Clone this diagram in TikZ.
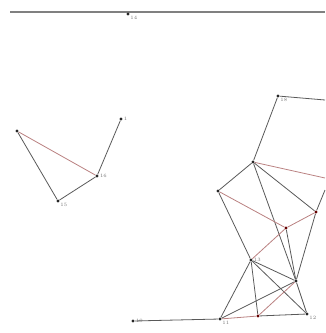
\documentclass[tikz,border=0pt]{standalone}
\begin{document}
\begin{tikzpicture}[x=1pt,y=-1pt,
  vtx/.style={circle,fill=black!85,inner sep=0pt,minimum size=3.2pt},
  rvtx/.style={circle,fill=red!40!black,inner sep=0pt,minimum size=3.2pt},
  lab/.style={font=\fontsize{5}{5}\selectfont,text=black!55,inner sep=1pt},
  ed/.style={draw=black!65,line width=0.8pt},
  red/.style={draw=red!45!black!50,line width=0.8pt}]
\useasboundingbox (0,0) rectangle (325,333);
\draw[draw=black!50,line width=1.6pt] (10,12) -- (325,12);
% nodes
\node[vtx] (n14) at (128,14) {};
\node[lab,anchor=north west] at (n14.south east) {14};
\node[vtx] (n9) at (17,131) {};
\node[vtx] (n1) at (121,119) {};
\node[lab,anchor=west] at (n1.east) {1};
\node[vtx] (n16) at (97,176) {};
\node[lab,anchor=west] at (n16.east) {16};
\node[vtx] (n15) at (58,201) {};
\node[lab,anchor=north west] at (n15.south east) {15};
\node[vtx] (n18) at (278,96) {};
\node[lab,anchor=north west] at (n18.south east) {18};
\node[vtx] (n8) at (253,162) {};
\node[vtx] (n6) at (218,191) {};
\node[rvtx] (nR) at (316,212) {};
\node[rvtx] (n3) at (286,228) {};
\node[vtx] (n13) at (251,260) {};
\node[lab,anchor=west] at (n13.east) {13};
\node[vtx] (n5) at (296,281) {};
\node[vtx] (n12) at (307,314) {};
\node[lab,anchor=north west] at (n12.south east) {12};
\node[rvtx] (n4) at (258,316) {};
\node[vtx] (n11) at (220,319) {};
\node[lab,anchor=north west] at (n11.south east) {11};
\node[vtx] (n10) at (133,321) {};
\node[lab,anchor=west] at (n10.east) {10};
\coordinate (e1) at (325,100);
\coordinate (e2) at (325,178);
\coordinate (e3) at (325,190);
% left cluster
\draw[red] (n9) -- (n16);
\draw[ed] (n9) -- (n15);
\draw[ed] (n15) -- (n16);
\draw[ed] (n16) -- (n1);
% right cluster
\draw[ed] (n18) -- (e1);
\draw[ed] (n18) -- (n8);
\draw[ed] (n8) -- (n6);
\draw[red] (n8) -- (e2);
\draw[ed] (n8) -- (nR);
\draw[ed] (n8) -- (n5);
\draw[red] (n6) -- (n3);
\draw[ed] (n6) -- (n13);
\draw[ed] (e3) -- (nR);
\draw[red] (nR) -- (n3);
\draw[red] (n3) -- (n13);
\draw[ed] (n3) -- (n5);
\draw[ed] (nR) -- (n5);
\draw[ed] (n13) -- (n5);
\draw[ed] (n13) -- (n12);
\draw[ed] (n13) -- (n4);
\draw[ed] (n13) -- (n11);
\draw[ed] (n5) -- (n11);
\draw[ed] (n5) -- (n12);
\draw[red] (n5) -- (n4);
\draw[ed] (n4) -- (n12);
\draw[red] (n11) -- (n4);
\draw[ed] (n10) -- (n11);
\end{tikzpicture}
\end{document}
